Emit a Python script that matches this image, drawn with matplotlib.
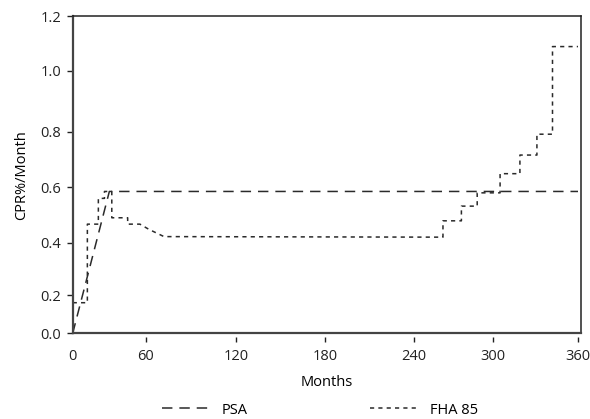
import numpy as np
import matplotlib
matplotlib.use("Agg")
import matplotlib.pyplot as plt

# Daten
psa_months = [0, 30, 360]
psa_cpr = [0.0, 0.585, 0.585]

fha_months = [0, 12, 12, 21, 21, 26, 26, 32, 32, 45, 45, 55, 62, 72,
              262, 262, 276, 276, 288, 288, 305, 305, 319, 319, 331, 331, 342, 342, 360]
fha_cpr = [0.161, 0.161, 0.467, 0.467, 0.56, 0.56, 0.585, 0.585, 0.49, 0.49, 0.467, 0.467,
           0.448, 0.422, 0.42, 0.479, 0.479, 0.532, 0.532, 0.58, 0.58, 0.649, 0.649,
           0.716, 0.716, 0.791, 0.791, 1.089, 1.089]

x_ticks = [0, 60, 120, 180, 240, 300, 360]
y_ticks = [0.0, 0.2, 0.4, 0.6, 0.8, 1.0, 1.2]

# Achsen der Vorlage sind nicht gleichmaessig geteilt -> stueckweise lineare Skala
X_KNOTS = [0, 60, 120, 180, 240, 300, 360, 362]
X_PIX = [72.7, 146, 236, 325, 414, 493, 578, 580.7]
Y_KNOTS = [0.0, 0.2, 0.4, 0.6, 0.8, 1.0, 1.2]
Y_PIX = [-333.3, -295.3, -242.7, -187.3, -131.7, -70.7, -16.5]


def x_fwd(v):
    return np.interp(v, X_KNOTS, X_PIX)


def x_inv(v):
    return np.interp(v, X_PIX, X_KNOTS)


def y_fwd(v):
    return np.interp(v, Y_KNOTS, Y_PIX)


def y_inv(v):
    return np.interp(v, Y_PIX, Y_KNOTS)


plt.rcParams['font.family'] = ['Open Sans', 'DejaVu Sans']
plt.rcParams['font.size'] = 10.5
plt.rcParams['lines.scale_dashes'] = False

W, H = 590, 419
fig = plt.figure(figsize=(W / 100, H / 100), dpi=100)
ax = fig.add_axes([72.7 / W, 1 - 333.3 / H, (580.7 - 72.7) / W, (333.3 - 16.5) / H])

ax.set_xscale('function', functions=(x_fwd, x_inv))
ax.set_yscale('function', functions=(y_fwd, y_inv))

line_col = '#2a2a2a'
ax.plot(psa_months, psa_cpr, color=line_col, lw=1.1, dashes=(7.5, 5), label='PSA')
ax.plot(fha_months, fha_cpr, color=line_col, lw=1.1, dashes=(3, 3), label='FHA 85')

ax.set_xlim(0, 362)
ax.set_ylim(0, 1.2)

ax.set_xticks(x_ticks)
ax.set_xticklabels([str(t) for t in x_ticks])
ax.set_yticks(y_ticks)
ax.set_yticklabels([f"{t:.1f}" for t in y_ticks])
ax.minorticks_off()

ax.tick_params(axis='x', length=0, pad=11, colors='#222222')
ax.tick_params(axis='y', direction='out', length=4.3, width=1, pad=4, colors='#222222')

# X-Ticks in der Vorlage haengen frei unter der Achse
ax.vlines(x_ticks[1:], -0.028, -0.013, transform=ax.get_xaxis_transform(),
          colors='#222222', lw=1, clip_on=False)

for side in ['left', 'bottom']:
    ax.spines[side].set_color('#444444')
    ax.spines[side].set_linewidth(1.6)
for side in ['top', 'right']:
    ax.spines[side].set_color('#222222')
    ax.spines[side].set_linewidth(1.1)

ax.set_xlabel('Months', labelpad=8)
ax.set_ylabel('CPR%/Month', labelpad=8)

fig.legend(loc='center', bbox_to_anchor=(320 / W, 1 - 410 / H), ncol=2, frameon=False,
           handlelength=3.4, handletextpad=0.7, columnspacing=8.4, borderpad=0)

fig.savefig('out.png', dpi=100)
